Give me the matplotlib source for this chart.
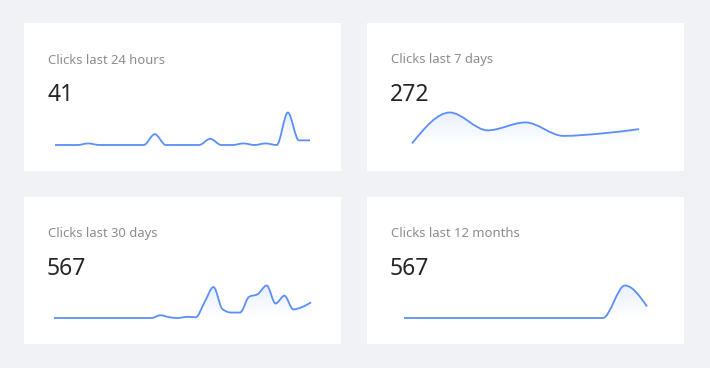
import matplotlib
matplotlib.use('Agg')
import matplotlib.pyplot as plt
import numpy as np
from matplotlib.path import Path
from matplotlib.patches import PathPatch, Rectangle

W, H = 710, 368

titles = ['Clicks last 24 hours', 'Clicks last 7 days', 'Clicks last 30 days', 'Clicks last 12 months']
totals = ['41', '272', '567', '567']

clicks_24h = [0, 0, 0, 1, 0, 0, 0, 0, 0, 7, 0, 0, 0, 0, 4, 0, 0, 1, 0, 1, 0, 21, 3, 3]
clicks_7d = [4, 82, 37, 57, 23, 29, 40]
clicks_30d = [0, 0, 0, 0, 0, 0, 0, 0, 0, 0, 0, 0, 7, 2, 0, 3, 2, 41, 79, 23,
              14, 14, 54, 61, 83, 37, 57, 22, 28, 40]
clicks_12m = [0, 0, 0, 0, 0, 0, 0, 0, 0, 0, 418, 149]
series = [clicks_24h, clicks_7d, clicks_30d, clicks_12m]

# card boxes and sparkline boxes in pixels (left, top, right, bottom)
cards = [(24, 23, 341, 171), (367, 23, 684, 171), (24, 197, 341, 344), (367, 197, 684, 344)]
sparks = [(55, 112.5, 310, 145), (412, 112.5, 639, 145), (54, 285.5, 311, 318), (404, 285.5, 647, 318)]

LINE = '#5b8ff9'
plt.rcParams['font.family'] = ['Noto Sans', 'DejaVu Sans']


def fx(px):
    return px / W


def fy(py):
    return 1 - py / H


def monotone_path(y):
    # bezier path through the points, monotone (no overshoot)
    y = np.asarray(y, dtype=float)
    n = len(y)
    x = np.arange(n, dtype=float)
    s = np.diff(y)
    t = np.zeros(n)
    for i in range(1, n - 1):
        s0, s1 = s[i - 1], s[i]
        if s0 * s1 <= 0:
            t[i] = 0
        else:
            t[i] = (np.sign(s0) + np.sign(s1)) * min(abs(s0), abs(s1), 0.5 * abs((s0 + s1) / 2))
    t[0] = (3 * s[0] - t[1]) / 2
    t[-1] = (3 * s[-1] - t[-2]) / 2
    verts = [(x[0], y[0])]
    codes = [Path.MOVETO]
    for i in range(n - 1):
        d = 1 / 3
        verts += [(x[i] + d, y[i] + d * t[i]), (x[i + 1] - d, y[i + 1] - d * t[i + 1]), (x[i + 1], y[i + 1])]
        codes += [Path.CURVE4] * 3
    return verts, codes


fig = plt.figure(figsize=(7.1, 3.68), dpi=100)
fig.patch.set_facecolor('#f0f2f5')

for (l, t, r, b), title, total in zip(cards, titles, totals):
    fig.add_artist(Rectangle((fx(l), fy(b)), (r - l) / W, (b - t) / H, zorder=-1,
                             transform=fig.transFigure, facecolor='white', edgecolor='none'))
    fig.text(fx(l + 24), fy(t + 40.5), title, fontsize=9.4, color='#8c8c8c', va='baseline')
    fig.text(fx(l + 23), fy(t + 78), total, fontsize=16.5, color='#262626', va='baseline')

for (l, t, r, b), vals in zip(sparks, series):
    ax = fig.add_axes([fx(l), fy(b), (r - l) / W, (b - t) / H])
    ax.axis('off')
    n = len(vals)
    ymax = max(vals)
    ax.set_xlim(0, n - 1)
    ax.set_ylim(0, ymax)
    verts, codes = monotone_path(vals)
    fill_verts = verts + [(n - 1, 0), (0, 0), (0, 0)]
    fill_codes = codes + [Path.LINETO, Path.LINETO, Path.CLOSEPOLY]
    fill = PathPatch(Path(fill_verts, fill_codes), facecolor='none', edgecolor='none')
    ax.add_patch(fill)
    grad = np.zeros((100, 2, 4))
    grad[..., 0] = 91 / 255
    grad[..., 1] = 143 / 255
    grad[..., 2] = 249 / 255
    grad[..., 3] = np.linspace(0.0, 0.14, 100)[:, None]
    im = ax.imshow(grad, extent=[0, n - 1, 0, ymax], origin='lower', aspect='auto', zorder=1)
    im.set_clip_path(fill)
    line = PathPatch(Path(verts, codes), facecolor='none', edgecolor=LINE, lw=1.3, zorder=2)
    line.set_clip_on(False)
    ax.add_patch(line)

fig.savefig('out.png', dpi=100, facecolor=fig.get_facecolor())
